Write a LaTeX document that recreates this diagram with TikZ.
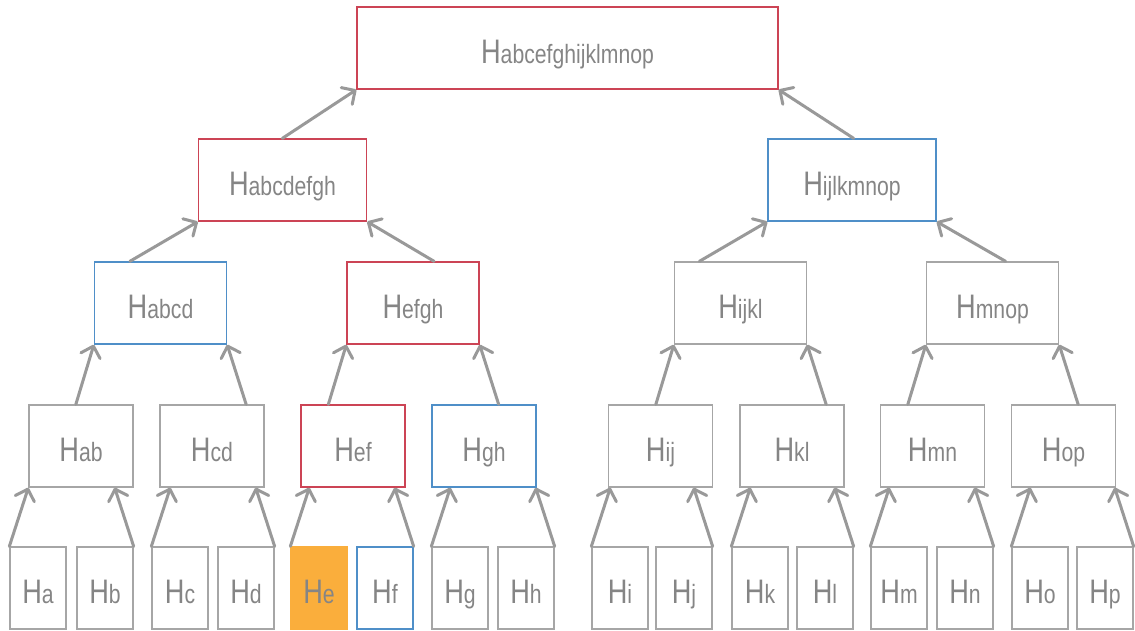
\documentclass[tikz,border=0pt]{standalone}
\usepackage{fontspec}
\setmainfont[FakeStretch=0.8]{Liberation Sans}
\usetikzlibrary{arrows.meta,calc}
\definecolor{boxgray}{HTML}{A6A6A6}
\definecolor{boxred}{HTML}{CC4455}
\definecolor{boxblue}{HTML}{4F8FC8}
\definecolor{boxorange}{HTML}{FAAE3C}
\definecolor{arrgray}{HTML}{999999}
\definecolor{txtgray}{HTML}{858585}
\newcommand{\hlbl}[1]{{\fontsize{34}{34}\selectfont H}{\fontsize{26.5}{26.5}\selectfont #1}}
\tikzset{
  hbox/.style={draw=boxgray, line width=1.3pt, minimum height=82pt, text height=30pt, text depth=0pt, inner sep=0pt, text=txtgray},
  leafbox/.style={hbox, minimum width=56pt},
  lonebox/.style={hbox, minimum width=104pt},
  ltwobox/.style={hbox, minimum width=132pt},
  lthreebox/.style={hbox, minimum width=168pt},
  rootbox/.style={hbox, minimum width=421pt},
  redbox/.style={draw=boxred},
  bluebox/.style={draw=boxblue},
  orangebox/.style={draw=boxorange, fill=boxorange},
  conn/.style={draw=arrgray, line width=3pt, line cap=round, -{Straight Barb[length=10pt,width=20pt,line cap=round,line join=round]}}
}
\begin{document}
\begin{tikzpicture}[x=1pt,y=-1pt]
\useasboundingbox (0,0) rectangle (1135,630);
% leaves
\node[leafbox] (a) at (38,588) {\hlbl{a}};
\node[leafbox] (b) at (105,588) {\hlbl{b}};
\node[leafbox] (c) at (180,588) {\hlbl{c}};
\node[leafbox] (d) at (246,588) {\hlbl{d}};
\node[leafbox,orangebox] (e) at (319,588) {\hlbl{e}};
\node[leafbox,bluebox] (f) at (385,588) {\hlbl{f}};
\node[leafbox] (g) at (460,588) {\hlbl{g}};
\node[leafbox] (h) at (526,588) {\hlbl{h}};
\node[leafbox] (i) at (620,588) {\hlbl{i}};
\node[leafbox] (j) at (684,588) {\hlbl{j}};
\node[leafbox] (k) at (760,588) {\hlbl{k}};
\node[leafbox] (l) at (825,588) {\hlbl{l}};
\node[leafbox] (m) at (899,588) {\hlbl{m}};
\node[leafbox] (n) at (965,588) {\hlbl{n}};
\node[leafbox] (o) at (1040,588) {\hlbl{o}};
\node[leafbox] (p) at (1105,588) {\hlbl{p}};
% level 1
\node[lonebox] (ab) at (81,446) {\hlbl{ab}};
\node[lonebox] (cd) at (212,446) {\hlbl{cd}};
\node[lonebox,redbox] (ef) at (353,446) {\hlbl{ef}};
\node[lonebox,bluebox] (gh) at (484,446) {\hlbl{gh}};
\node[lonebox] (ij) at (660.5,446) {\hlbl{ij}};
\node[lonebox] (kl) at (792,446) {\hlbl{kl}};
\node[lonebox] (mn) at (932.5,446) {\hlbl{mn}};
\node[lonebox] (op) at (1063.5,446) {\hlbl{op}};
% level 2
\node[ltwobox,bluebox] (abcd) at (160.5,303) {\hlbl{abcd}};
\node[ltwobox,redbox] (efgh) at (413,303) {\hlbl{efgh}};
\node[ltwobox] (ijkl) at (740.5,303) {\hlbl{ijkl}};
\node[ltwobox] (mnop) at (992.5,303) {\hlbl{mnop}};
% level 3
\node[lthreebox,redbox] (ah) at (282.5,180) {\hlbl{abcdefgh}};
\node[lthreebox,bluebox] (ip) at (852,180) {\hlbl{ijlkmnop}};
% root
\node[rootbox,redbox] (root) at (567.5,48) {\hlbl{abcefghijklmnop}};
% leaf -> level 1
\foreach \l/\r/\q in {a/b/ab, c/d/cd, e/f/ef, g/h/gh, i/j/ij, k/l/kl, m/n/mn, o/p/op}{
  \draw[conn] (\l.north west) -- ([xshift=19pt]\l.north west |- \q.south);
  \draw[conn] (\r.north east) -- ([xshift=-19pt]\r.north east |- \q.south);
}
% level 1 -> level 2
\foreach \l/\r/\q in {ab/cd/abcd, ef/gh/efgh, ij/kl/ijkl, mn/op/mnop}{
  \draw[conn] ([xshift=-18pt]\q.south west |- \l.north) -- (\q.south west);
  \draw[conn] ([xshift=19pt]\q.south east |- \r.north) -- (\q.south east);
}
% level 2 -> level 3
\draw[conn] ([xshift=-68pt]ah.south west |- abcd.north) -- (ah.south west);
\draw[conn] ([xshift=67pt]ah.south east |- efgh.north) -- (ah.south east);
\draw[conn] ([xshift=-68pt]ip.south west |- ijkl.north) -- (ip.south west);
\draw[conn] ([xshift=69pt]ip.south east |- mnop.north) -- (ip.south east);
% level 3 -> root
\draw[conn] ([xshift=-74pt]root.south west |- ah.north) -- (root.south west);
\draw[conn] ([xshift=75pt]root.south east |- ip.north) -- (root.south east);
\end{tikzpicture}
\end{document}
